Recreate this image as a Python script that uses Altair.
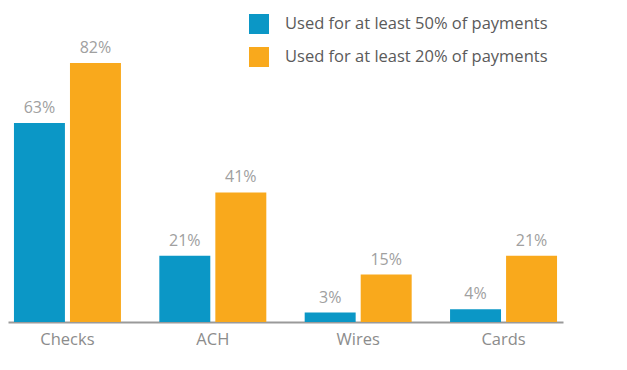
import altair as alt
import pandas as pd

categories = ["Checks", "ACH", "Wires", "Cards"]
series = ["Used for at least 50% of payments", "Used for at least 20% of payments"]
at_least_50 = [63, 21, 3, 4]
at_least_20 = [82, 41, 15, 21]
colors = ["#0B97C6", "#F9A91C"]

rows = []
for c, a, b in zip(categories, at_least_50, at_least_20):
    rows.append({"cat": c, "series": series[0], "value": a, "label": f"{a}%"})
    rows.append({"cat": c, "series": series[1], "value": b, "label": f"{b}%"})
df = pd.DataFrame(rows)

FONT = "Open Sans"

x = alt.X("cat:N", sort=categories, title=None,
          scale=alt.Scale(range=[0, 555], paddingInner=0.264, paddingOuter=0.041),
          axis=alt.Axis(labelAngle=0, ticks=False, domainColor="#9a9a9a", domainWidth=2,
                        labelFontSize=16.5, labelColor="#8c8c8c", labelFont=FONT,
                        labelPadding=9, grid=False))
xo = alt.XOffset("series:N", sort=series,
                 scale=alt.Scale(paddingInner=0.09, paddingOuter=0))
y = alt.Y("value:Q", scale=alt.Scale(domain=[0, 99.4], nice=False), axis=None)

bars = alt.Chart(df).mark_bar().encode(
    x=x, xOffset=xo, y=y,
    color=alt.Color("series:N", sort=series,
                    scale=alt.Scale(domain=series, range=colors),
                    legend=alt.Legend(title=None, orient="none", legendX=241, legendY=6,
                                      symbolType="square", symbolSize=400,
                                      symbolStrokeWidth=0, symbolOpacity=1,
                                      labelFontSize=16.5, labelColor="#5a5a5a",
                                      labelFont=FONT, labelOffset=16,
                                      rowPadding=13, padding=0, labelLimit=400)),
)

labels = alt.Chart(df).mark_text(baseline="bottom", dy=-7, fontSize=16,
                                 color="#a0a0a0", font=FONT).encode(
    x=alt.X("cat:N", sort=categories), xOffset=alt.XOffset("series:N", sort=series),
    y="value:Q", text="label:N",
)

chart = alt.layer(bars, labels).properties(
    width=570, height=314,
    background="white",
    autosize=alt.AutoSizeParams(type="none"),
    padding={"left": 0, "top": 0, "right": 40, "bottom": 40},
).configure_view(stroke=None, strokeWidth=0)

chart.save("out.html", embed_options={"renderer": "svg", "actions": False})
